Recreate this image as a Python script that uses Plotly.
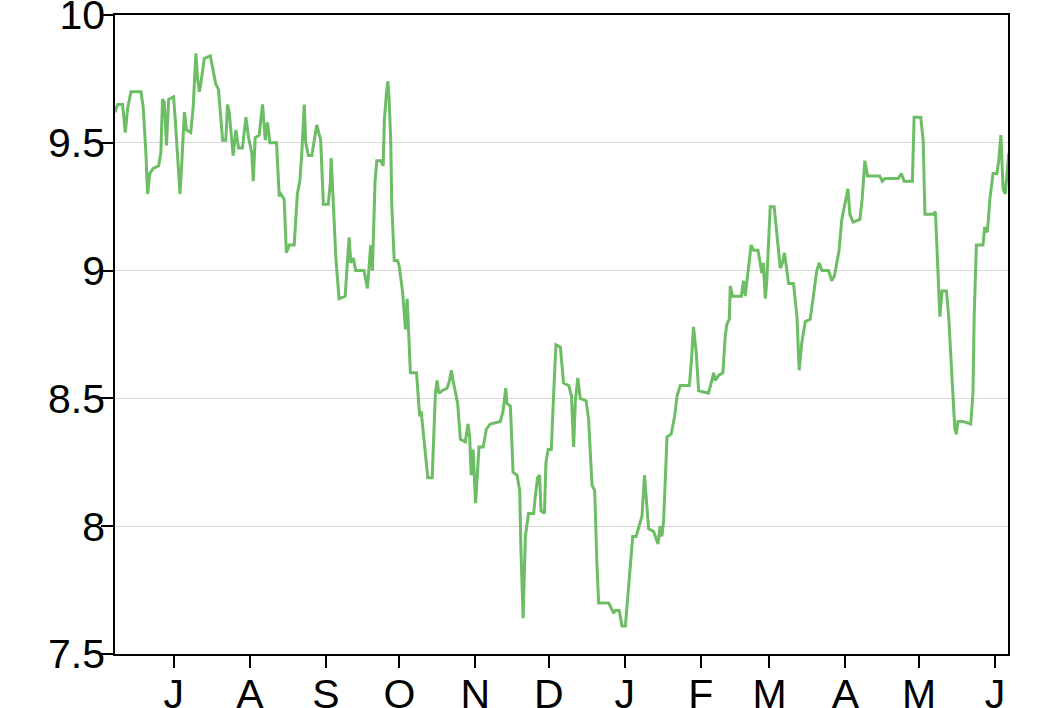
import pandas as pd
import plotly.graph_objects as go

start_date = "2018-06-07"
# day offsets from start_date
days = [0.0, 1.1, 3.1, 4.2, 5.1, 6.5, 10.6, 11.5, 12.6, 13.3, 14.2, 15.6, 17.8, 18.7, 19.4, 20.1, 20.5, 21.0, 21.9, 23.9,
        24.6, 25.9, 26.5, 27.3, 28.3, 29.2, 30.9, 31.9, 33.0, 33.7, 34.4, 35.0, 36.4, 38.9, 39.8, 41.1, 42.2, 43.2, 43.9, 45.2,
        45.9, 46.6, 47.7, 48.2, 49.3, 50.4, 52.0, 53.4, 54.5, 55.8, 56.4, 57.2, 58.8, 60.2, 61.3, 62.2, 63.2, 65.9, 67.0, 67.6,
        69.0, 69.9, 71.1, 73.1, 74.4, 75.4, 76.2, 77.2, 77.8, 78.9, 80.3, 81.3, 82.3, 83.9, 85.0, 87.0, 87.8, 88.2, 89.0, 90.1,
        91.4, 93.9, 94.8, 95.5, 96.2, 97.2, 98.2, 101.6, 103.0, 103.7, 104.3, 105.0, 106.1, 106.8, 108.4, 109.4, 109.9, 110.7, 111.3, 111.8,
        112.5, 112.9, 113.5, 113.9, 115.2, 115.9, 117.3, 117.9, 118.5, 119.2, 119.8, 120.5, 123.0, 123.9, 124.3, 124.9, 127.0, 127.6, 129.4, 130.0,
        130.7, 131.4, 132.1, 133.4, 135.5, 136.5, 137.2, 137.9, 138.9, 139.8, 140.9, 142.9, 144.0, 144.7, 145.3, 146.1, 147.1, 148.0, 148.5, 150.2,
        151.5, 153.1, 157.2, 158.3, 159.4, 159.9, 161.3, 162.4, 164.0, 165.1, 165.6, 166.5, 167.4, 168.7, 170.8, 171.5, 172.4, 173.2, 173.8, 175.2,
        175.8, 176.7, 178.0, 178.9, 179.9, 181.7, 183.0, 185.1, 186.2, 187.1, 187.8, 188.8, 189.8, 192.2, 193.2, 194.6, 195.7, 196.6, 197.3, 201.4,
        203.4, 204.1, 205.7, 206.8, 208.2, 209.5, 211.2, 212.6, 213.9, 215.0, 216.0, 217.0, 217.7, 219.7, 220.8, 221.5, 222.4, 223.1, 223.8, 224.5,
        225.2, 226.9, 228.3, 229.3, 230.6, 234.3, 235.1, 236.0, 237.1, 238.1, 242.1, 243.5, 244.2, 244.9, 246.2, 248.0, 248.9, 249.6, 250.6, 251.0,
        251.9, 255.5, 256.4, 257.1, 257.8, 258.4, 259.5, 260.5, 262.3, 263.2, 263.9, 264.5, 265.3, 265.9, 266.6, 267.3, 268.9, 270.0, 271.4, 272.3,
        273.1, 274.1, 274.8, 276.8, 278.2, 279.1, 280.2, 281.6, 283.6, 284.9, 286.3, 287.3, 288.4, 291.1, 292.4, 293.5, 294.5, 295.4, 296.5, 297.9,
        299.0, 299.8, 301.1, 303.9, 304.8, 305.9, 307.0, 312.0, 313.0, 314.1, 319.5, 320.8, 321.9, 325.3, 326.0, 328.7, 329.7, 330.4, 333.7, 334.7,
        335.5, 336.1, 336.5, 337.4, 339.2, 340.1, 340.9, 341.9, 342.6, 343.2, 343.9, 345.9, 349.1, 350.0, 350.5, 351.4, 354.1, 354.8, 355.9, 356.9,
        358.2, 359.8, 360.5, 361.4, 361.9, 362.3, 363.2, 364.0, 364.6]
values = [9.62, 9.65, 9.65, 9.54, 9.63, 9.70, 9.70, 9.64, 9.46, 9.30, 9.38, 9.40, 9.41, 9.46, 9.67, 9.66, 9.59, 9.49, 9.67, 9.68,
          9.59, 9.41, 9.30, 9.43, 9.62, 9.55, 9.54, 9.64, 9.85, 9.75, 9.70, 9.73, 9.83, 9.84, 9.80, 9.73, 9.71, 9.59, 9.51, 9.51,
          9.65, 9.62, 9.51, 9.45, 9.55, 9.48, 9.48, 9.60, 9.52, 9.46, 9.35, 9.52, 9.53, 9.65, 9.51, 9.58, 9.50, 9.50, 9.29, 9.30,
          9.28, 9.07, 9.10, 9.10, 9.30, 9.35, 9.46, 9.65, 9.50, 9.45, 9.45, 9.52, 9.57, 9.51, 9.26, 9.26, 9.34, 9.44, 9.26, 9.05,
          8.89, 8.90, 9.03, 9.13, 9.03, 9.05, 9.00, 9.00, 8.93, 9.02, 9.10, 9.00, 9.35, 9.43, 9.43, 9.41, 9.59, 9.69, 9.74, 9.68,
          9.50, 9.26, 9.12, 9.04, 9.04, 9.02, 8.92, 8.85, 8.77, 8.89, 8.75, 8.60, 8.60, 8.47, 8.43, 8.45, 8.25, 8.19, 8.19, 8.32,
          8.52, 8.57, 8.52, 8.53, 8.54, 8.57, 8.61, 8.57, 8.52, 8.48, 8.34, 8.33, 8.40, 8.35, 8.20, 8.30, 8.09, 8.25, 8.31, 8.31,
          8.38, 8.40, 8.41, 8.45, 8.54, 8.48, 8.47, 8.21, 8.20, 8.14, 7.91, 7.64, 7.96, 8.05, 8.05, 8.12, 8.19, 8.20, 8.06, 8.05,
          8.25, 8.30, 8.30, 8.51, 8.71, 8.70, 8.56, 8.55, 8.51, 8.31, 8.49, 8.58, 8.50, 8.49, 8.42, 8.16, 8.14, 7.85, 7.70, 7.70,
          7.66, 7.67, 7.67, 7.61, 7.61, 7.76, 7.96, 7.96, 8.00, 8.04, 8.20, 8.09, 7.99, 7.98, 7.95, 7.93, 8.00, 7.96, 8.02, 8.21,
          8.35, 8.36, 8.43, 8.51, 8.55, 8.55, 8.64, 8.78, 8.68, 8.53, 8.52, 8.57, 8.60, 8.57, 8.59, 8.60, 8.74, 8.79, 8.81, 8.94,
          8.90, 8.90, 8.96, 8.90, 8.96, 9.03, 9.10, 9.08, 9.08, 9.03, 8.99, 9.03, 8.89, 8.96, 9.10, 9.25, 9.25, 9.15, 9.01, 9.03,
          9.07, 9.00, 8.95, 8.95, 8.82, 8.61, 8.72, 8.80, 8.81, 8.90, 9.00, 9.03, 9.00, 9.00, 8.96, 8.98, 9.03, 9.08, 9.20, 9.26,
          9.32, 9.22, 9.19, 9.20, 9.28, 9.43, 9.37, 9.37, 9.35, 9.36, 9.36, 9.38, 9.35, 9.35, 9.60, 9.60, 9.51, 9.22, 9.22, 9.23,
          9.04, 8.88, 8.82, 8.92, 8.92, 8.82, 8.68, 8.49, 8.38, 8.36, 8.41, 8.41, 8.40, 8.52, 8.82, 9.10, 9.10, 9.17, 9.15, 9.28,
          9.38, 9.38, 9.43, 9.53, 9.43, 9.32, 9.30, 9.39, 9.46]

month_ticks = ["2018-07-01", "2018-08-01", "2018-09-01", "2018-10-01", "2018-11-01", "2018-12-01",
               "2019-01-01", "2019-02-01", "2019-03-01", "2019-04-01", "2019-05-01", "2019-06-01"]
month_labels = ["J", "A", "S", "O", "N", "D", "J", "F", "M", "A", "M", "J"]
y_ticks = [7.5, 8, 8.5, 9, 9.5, 10]
y_labels = ["7.5", "8", "8.5", "9", "9.5", "10"]

dates = pd.Timestamp(start_date) + pd.to_timedelta(days, unit="D")

fig = go.Figure()
fig.add_trace(go.Scatter(x=dates, y=values, mode="lines",
                         line=dict(color="#6cbd64", width=3), showlegend=False))

font = dict(family="Liberation Sans, Arial, Helvetica, sans-serif", size=41, color="black")
fig.update_layout(
    width=1040, height=708,
    margin=dict(l=115, r=32, t=15, b=54),
    paper_bgcolor="white", plot_bgcolor="white",
    font=font,
)
fig.update_xaxes(
    range=[pd.Timestamp(start_date), pd.Timestamp(start_date) + pd.Timedelta(days=364.3)],
    tickmode="array", tickvals=month_ticks, ticktext=month_labels,
    ticks="outside", ticklen=12, tickwidth=1.5, tickcolor="black",
    showline=True, linecolor="black", linewidth=1.5, mirror=True,
    showgrid=False, zeroline=False, tickfont=font,
    automargin=False, ticklabeloverflow="allow", ticklabelstandoff=-9,
)
fig.update_yaxes(
    range=[7.5, 10],
    tickmode="array", tickvals=y_ticks, ticktext=y_labels,
    ticks="outside", ticklen=12, tickwidth=1.5, tickcolor="black",
    showline=True, linecolor="black", linewidth=1.5, mirror=True,
    showgrid=True, gridcolor="#d9d9d9", gridwidth=1, zeroline=False, tickfont=font,
    automargin=False, ticklabeloverflow="allow", ticklabelstandoff=-12,
)
fig.write_html("out.html", config={"responsive": False, "displayModeBar": False},
               post_script="document.body.style.margin='0';document.body.style.overflow='hidden';")
